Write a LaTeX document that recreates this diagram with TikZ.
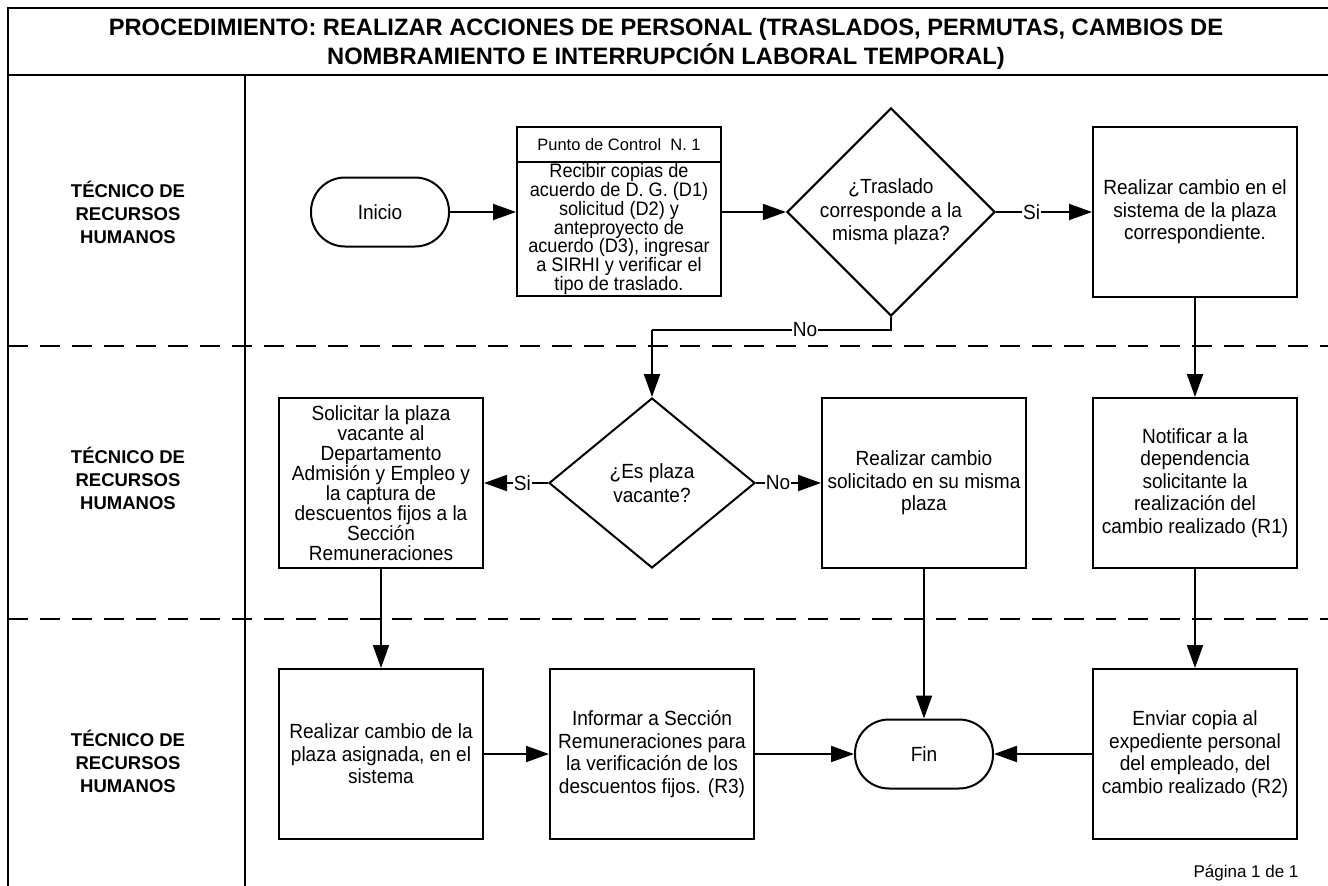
\documentclass[tikz,border=0pt]{standalone}
\usepackage{fontspec}
\setmainfont{Liberation Sans}
\newfontfamily\narrowfont{Liberation Sans}[FakeStretch=0.93]
\usepackage{tikz}
\usetikzlibrary{shapes.geometric}
\usetikzlibrary{arrows.meta}

\tikzset{
  proc/.style={draw, line width=2pt, minimum width=204pt, minimum height=170pt,
    inner sep=0pt, align=center, font=\narrowfont\fontsize{20.5}{22.5}\selectfont},
  term/.style={draw, line width=2pt, rounded corners=34pt, minimum width=138pt,
    minimum height=69pt, font=\narrowfont\fontsize{20.5}{22.5}\selectfont},
  decision/.style={draw, diamond, line width=2pt, minimum width=206pt,
    minimum height=170pt, inner sep=0pt, align=center,
    font=\narrowfont\fontsize{20.5}{23.5}\selectfont},
  flow/.style={line width=2pt, -{Triangle[length=23pt,width=16pt]}},
  lbl/.style={fill=white, inner sep=1pt, font=\narrowfont\fontsize{20.5}{22.5}\selectfont},
  lane/.style={align=center, font=\bfseries\fontsize{18.5}{23}\selectfont},
  borderline/.style={line width=2pt},
  divider/.style={line width=2.5pt, dash pattern=on 20pt off 12pt}
}

\begin{document}
\begin{tikzpicture}[x=1pt, y=-1pt]
\useasboundingbox (0,0) rectangle (1328,886);

% marco y carriles
\draw[borderline] (8,886) -- (8,8) -- (1328,8);
\draw[borderline] (8,75) -- (1328,75);
\draw[borderline] (245,75) -- (245,886);
\draw[divider] (8,346) -- (1328,346);
\draw[divider] (8,619) -- (1328,619);

\node[font=\bfseries\fontsize{23.7}{29.5}\selectfont, align=center] (title) at (666,44)
  {PROCEDIMIENTO: REALIZAR ACCIONES DE PERSONAL (TRASLADOS, PERMUTAS, CAMBIOS DE\\
   NOMBRAMIENTO E INTERRUPCIÓN LABORAL TEMPORAL)};

\node[lane] (lane1) at (128,212) {TÉCNICO DE\\RECURSOS\\HUMANOS};
\node[lane] (lane2) at (128,478) {TÉCNICO DE\\RECURSOS\\HUMANOS};
\node[lane] (lane3) at (128,761) {TÉCNICO DE\\RECURSOS\\HUMANOS};

% carril 1
\node[term] (inicio) at (380,212) {Inicio};
\node[draw, line width=2pt, minimum width=204pt, minimum height=35pt, inner sep=0pt,
  font=\fontsize{16.5}{19}\selectfont] (pchead) at (619,144.5) {Punto de Control \ N. 1};
\node[proc, minimum height=134pt, font=\narrowfont\fontsize{19.5}{18.7}\selectfont] (pc) at (619,229)
  {Recibir copias de\\acuerdo de D. G. (D1)\\solicitud (D2) y\\anteproyecto de\\
   acuerdo (D3), ingresar\\a SIRHI y verificar el\\tipo de traslado.};
\node[decision] (d1) at (891,212) {¿Traslado\\corresponde a la\\misma plaza?};
\node[proc] (r1) at (1195,212) {Realizar cambio en el\\sistema de la plaza\\correspondiente.};

% carril 2
\node[decision] (d2) at (652,483) {¿Es plaza\\vacante?};
\node[proc, font=\narrowfont\fontsize{20.5}{20}\selectfont] (sol) at (381,483)
  {Solicitar la plaza\\vacante al\\Departamento\\Admisión y Empleo y\\la captura de\\
   descuentos fijos a la\\Sección\\Remuneraciones};
\node[proc] (rcs) at (924,483) {Realizar cambio\\solicitado en su misma\\plaza};
\node[proc] (r2) at (1195,483)
  {Notificar a la\\dependencia\\solicitante la\\realización del\\cambio realizado (R1)};

% carril 3
\node[proc] (rcp) at (381,754) {Realizar cambio de la\\plaza asignada, en el\\sistema};
\node[proc] (inf) at (652,754)
  {Informar a Sección\\Remuneraciones para\\la verificación de los\\descuentos fijos. (R3)};
\node[term] (fin) at (924,754) {Fin};
\node[proc] (env) at (1195,754)
  {Enviar copia al\\expediente personal\\del empleado, del\\cambio realizado (R2)};

\coordinate (nobend) at (652,330);

% conectores
\draw[flow] (inicio.east) -- (inicio.east -| pc.west);
\draw[flow] (pc.east |- d1) -- (d1.west);
\draw[flow] (d1.east) -- node[lbl, pos=0.37] {Si} (r1.west);
\draw[line width=2pt] (d1.south) |- node[lbl, pos=0.68] {No} (nobend);
\draw[flow] (nobend) -- (d2.north);
\draw[flow] (r1.south) -- (r2.north);
\draw[flow] (d2.west) -- node[lbl, pos=0.4] {Si} (sol.east);
\draw[flow] (d2.east) -- node[lbl, pos=0.34] {No} (rcs.west);
\draw[flow] (sol.south) -- (rcp.north);
\draw[flow] (rcs.south) -- (fin.north);
\draw[flow] (r2.south) -- (env.north);
\draw[flow] (rcp.east) -- (inf.west);
\draw[flow] (inf.east) -- (fin.west);
\draw[flow] (env.west) -- (fin.east);

\node[font=\fontsize{17}{20}\selectfont] (page) at (1246,873) {Página 1 de 1};
\end{tikzpicture}
\end{document}
